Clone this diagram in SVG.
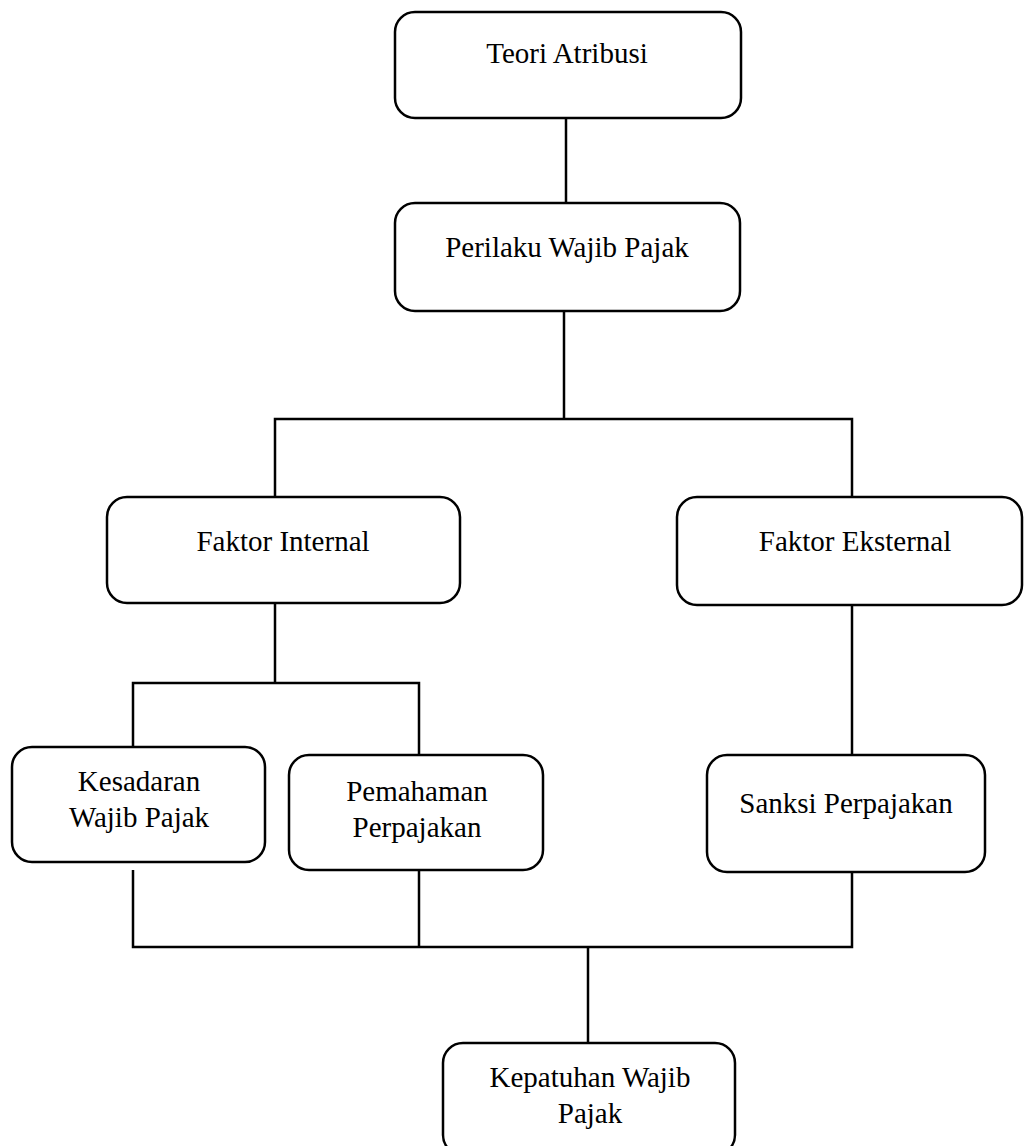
<svg xmlns="http://www.w3.org/2000/svg" width="1024" height="1146" viewBox="0 0 1024 1146">
<style>
.box{fill:#fff;stroke:#000;stroke-width:2.5}
.ln{fill:none;stroke:#000;stroke-width:2.5}
text{font-family:"Liberation Serif","Times New Roman",serif;font-size:29px;fill:#000;text-anchor:middle}
</style>
<rect width="1024" height="1146" fill="#fff"/>
<g id="connectors">
<path class="ln" d="M566,118 V203"/>
<path class="ln" d="M564,311 V419"/>
<path class="ln" d="M275,497 V419 H852 V497"/>
<path class="ln" d="M275,603 V683"/>
<path class="ln" d="M133,755 V683 H419 V755"/>
<path class="ln" d="M852,605 V755"/>
<path class="ln" d="M133,870 V947 H852 V872"/>
<path class="ln" d="M419,870 V947"/>
<path class="ln" d="M588,947 V1043"/>
</g>
<g id="teori">
<rect class="box" x="395" y="12" width="346" height="106" rx="20"/>
<text x="567" y="63">Teori Atribusi</text>
</g>
<g id="perilaku">
<rect class="box" x="395" y="203" width="345" height="108" rx="20"/>
<text x="567" y="257">Perilaku Wajib Pajak</text>
</g>
<g id="internal">
<rect class="box" x="107" y="497" width="353" height="106" rx="20"/>
<text x="283" y="551">Faktor Internal</text>
</g>
<g id="eksternal">
<rect class="box" x="677" y="497" width="345" height="108" rx="20"/>
<text x="855" y="551">Faktor Eksternal</text>
</g>
<g id="kesadaran">
<rect class="box" x="12" y="747" width="253" height="115" rx="20"/>
<text x="139" y="791">Kesadaran</text>
<text x="139" y="827">Wajib Pajak</text>
</g>
<g id="pemahaman">
<rect class="box" x="289" y="755" width="254" height="115" rx="20"/>
<text x="417" y="801">Pemahaman</text>
<text x="417" y="837">Perpajakan</text>
</g>
<g id="sanksi">
<rect class="box" x="707" y="755" width="278" height="117" rx="20"/>
<text x="846" y="813">Sanksi Perpajakan</text>
</g>
<g id="kepatuhan">
<rect class="box" x="443" y="1043" width="292" height="112" rx="20"/>
<text x="590" y="1087">Kepatuhan Wajib</text>
<text x="590" y="1123">Pajak</text>
</g>
</svg>
